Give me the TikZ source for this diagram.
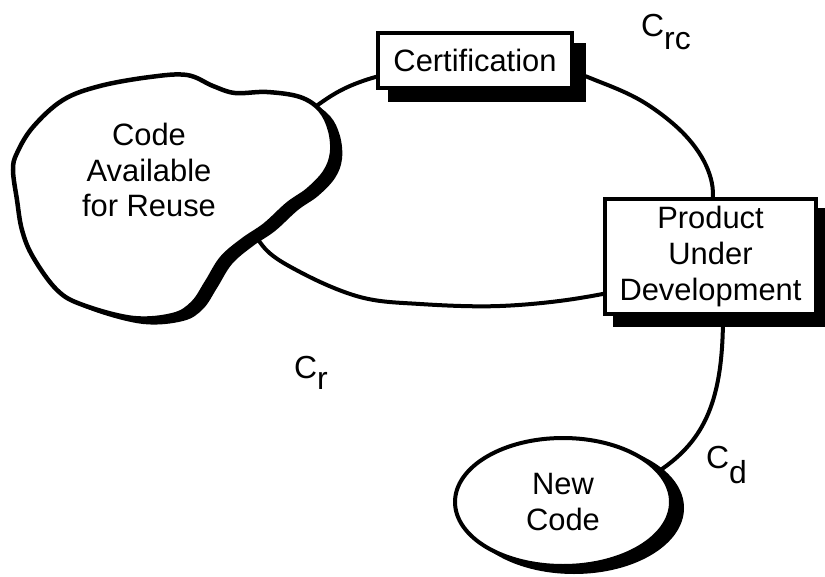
\documentclass[tikz,border=0pt]{standalone}
\usepackage{fontspec}
\setmainfont{Liberation Sans}
\usetikzlibrary{shapes.geometric}
\pgfdeclarelayer{ringlayer}
\pgfdeclarelayer{shadowlayer}
\pgfsetlayers{ringlayer,shadowlayer,main}
\begin{document}
\begin{tikzpicture}[x=1bp,y=-1bp,
  txt/.style={font=\fontsize{31}{36}\selectfont, align=center},
  box/.style={draw, fill=white, line width=4bp, inner sep=0pt, txt},
  oval/.style={ellipse, draw, fill=white, line width=4bp, inner sep=0pt, txt},
  shade/.style={fill=black},
  ring/.style={line width=4bp},
  lbl/.style={font=\fontsize{32}{36}\selectfont, inner sep=0pt, anchor=base west}
]
\useasboundingbox (0,0) rectangle (825,577);

% nodes
\node[box, minimum width=194bp, minimum height=55bp] (cert) at (475,60.5) {Certification};
\node[box, minimum width=211bp, minimum height=115bp] (prod) at (710.5,256.5) {Product\\Under\\Development};
\node[oval, minimum width=216bp, minimum height=128bp] (new) at (563,502) {New\\Code};

% shadows
\begin{pgfonlayer}{shadowlayer}
\fill[shade] ([shift={(12,12)}]cert.south west) rectangle ([shift={(12,12)}]cert.north east);
\fill[shade] ([shift={(10,11)}]prod.south west) rectangle ([shift={(10,11)}]prod.north east);
\fill[shade] ([shift={(11,6)}]new.center) ellipse [x radius=110, y radius=66];
\end{pgfonlayer}

% ring and connector
\begin{pgfonlayer}{ringlayer}
\draw[ring] plot[smooth cycle, tension=0.6] coordinates {
 (250,205) (285,135) (322,102) (360,82) (410,70) (480,65) (560,70) (600,82)
 (645,103) (685,135) (708,170) (712,205) (695,250) (640,283) (580,298)
 (500,306) (420,304) (360,297) (300,272) (262,245)};
\draw[ring] ([xshift=12.5bp]prod.south) .. controls (723,400) and (705,440) .. (new.18);
\end{pgfonlayer}

% blob
\fill[shade, shift={(10,6)}] plot[smooth cycle, tension=0.6] coordinates {
 (63,100) (100,86) (150,77) (187,75) (213,86) (235,93) (267,92) (300,97)
 (320,110) (330,130) (332,153) (325,172) (308,190) (288,204) (265,225)
 (243,240) (222,258) (207,282) (193,303) (173,315) (133,318) (83,305)
 (57,290) (33,257) (22,230) (17,200) (13,170) (17,153) (33,127)};
\draw[line width=4.5bp, fill=white] plot[smooth cycle, tension=0.6] coordinates {
 (63,100) (100,86) (150,77) (187,75) (213,86) (235,93) (267,92) (300,97)
 (320,110) (330,130) (332,153) (325,172) (308,190) (288,204) (265,225)
 (243,240) (222,258) (207,282) (193,303) (173,315) (133,318) (83,305)
 (57,290) (33,257) (22,230) (17,200) (13,170) (17,153) (33,127)};
\node[txt] (reuse) at (149,170) {Code\\Available\\for Reuse};

% labels
\node[lbl] (crc) at (641,37) {C\raisebox{-13bp}{rc}};
\node[lbl] (cr) at (294,378) {C\raisebox{-11bp}{r}};
\node[lbl] (cd) at (706,468) {C\raisebox{-15bp}{d}};
\end{tikzpicture}
\end{document}
